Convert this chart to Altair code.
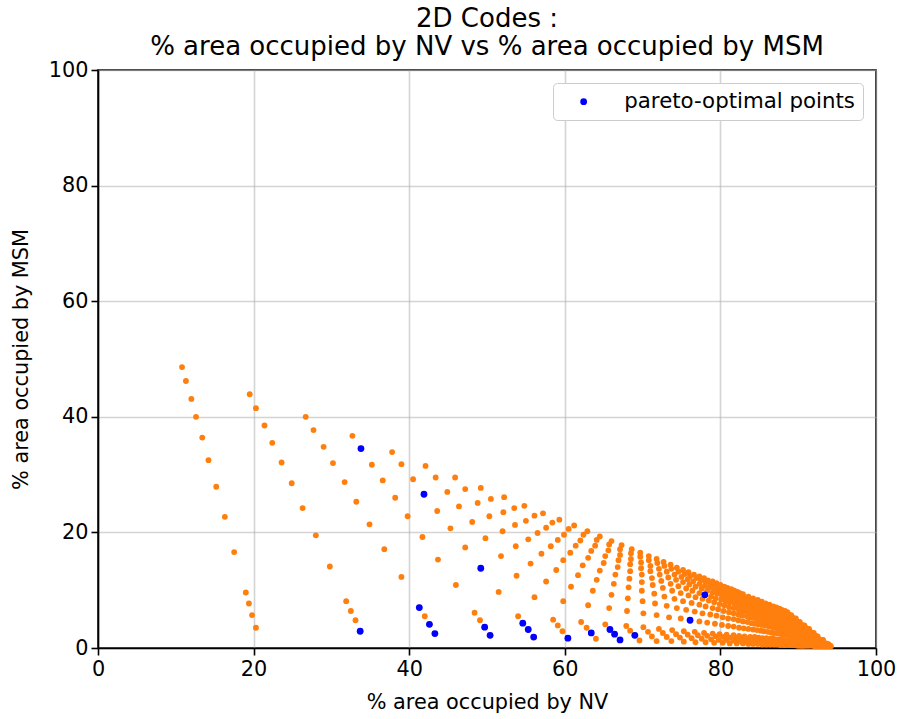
import altair as alt
import pandas as pd

# Each list is one "row" of the point family (same relative position on every curve),
# ordered by curve from the upper-left curve to the dense lower-right cluster.
nv_r1 = [10.8,19.5,26.7,32.7,37.8,42.1,45.9,49.2,52.2,54.8,57.2,59.3,61.2,62.9,64.5,66.0,67.3,68.6,69.7,70.8,71.8,72.7,73.6,74.4,75.2,75.9,76.6,77.3,77.9,78.4,79.0,79.5,80.0,80.5,80.9,81.4,81.8,82.2,82.5,82.9,83.6,84.2,84.8,85.3,85.8,86.3,86.8,87.2,87.6,87.9,88.3,88.6]
msm_r1 = [48.6,43.9,40.0,36.7,33.9,31.5,29.5,27.7,26.1,24.6,23.3,22.2,21.2,20.2,19.3,18.5,17.8,17.1,16.5,15.9,15.4,14.9,14.4,13.9,13.5,13.1,12.7,12.4,12.1,11.7,11.5,11.2,10.9,10.6,10.4,10.2,9.9,9.7,9.5,9.3,8.9,8.6,8.3,8.0,7.7,7.5,7.2,7.0,6.8,6.6,6.4,6.2]
nv_r2 = [11.3,20.3,27.7,33.8,39.0,43.4,47.2,50.5,53.5,56.1,58.4,60.5,62.4,64.1,65.7,67.1,68.5,69.7,70.8,71.9,72.8,73.7,74.6,75.4,76.1,76.9,77.5,78.1,78.7,79.3,79.8,80.3,80.8,81.3,81.7,82.1,82.5,82.9,83.3,83.6,84.3,84.9,85.5,86.0,86.5,86.9,87.3,87.7,88.1,88.5,88.8,89.1]
msm_r2 = [46.2,41.5,37.7,34.5,31.8,29.5,27.5,25.8,24.2,22.9,21.7,20.6,19.6,18.7,17.9,17.1,16.4,15.8,15.2,14.7,14.2,13.7,13.2,12.8,12.4,12.1,11.7,11.4,11.1,10.8,10.5,10.2,10.0,9.8,9.5,9.3,9.1,8.9,8.7,8.5,8.2,7.9,7.6,7.3,7.1,6.8,6.6,6.4,6.2,6.0,5.8,5.7]
nv_r3 = [12.0,21.4,29.0,35.2,40.5,44.9,48.8,52.1,55.0,57.6,59.9,62.0,63.9,65.6,67.1,68.5,69.8,71.0,72.1,73.1,74.1,75.0,75.8,76.5,77.3,78.0,78.6,79.2,79.8,80.3,80.8,81.3,81.8,82.2,82.6,83.0,83.4,83.8,84.1,84.5,85.1,85.7,86.2,86.7,87.2,87.6,88.0,88.4,88.7,89.1,89.4,89.7]
msm_r3 = [43.1,38.5,34.8,31.7,29.2,27.0,25.1,23.5,22.0,20.8,19.6,18.6,17.7,16.9,16.1,15.4,14.8,14.2,13.7,13.2,12.7,12.3,11.9,11.5,11.1,10.8,10.5,10.2,9.9,9.6,9.4,9.2,8.9,8.7,8.5,8.3,8.1,7.9,7.8,7.6,7.3,7.0,6.8,6.5,6.3,6.1,5.9,5.7,5.5,5.4,5.2,5.1]
nv_r4 = [12.6,22.4,30.2,36.6,41.9,46.4,50.3,53.6,56.5,59.1,61.4,63.4,65.2,66.9,68.4,69.8,71.0,72.2,73.3,74.3,75.2,76.0,76.8,77.6,78.3,79.0,79.6,80.2,80.7,81.2,81.7,82.2,82.6,83.1,83.5,83.9,84.2,84.6,84.9,85.2,85.8,86.4,86.9,87.4,87.8,88.2,88.6,89.0,89.3,89.6,89.9,90.2]
msm_r4 = [40.0,35.5,32.0,29.0,26.6,24.5,22.8,21.3,19.9,18.7,17.7,16.8,15.9,15.2,14.5,13.8,13.3,12.7,12.2,11.8,11.4,11.0,10.6,10.3,9.9,9.6,9.4,9.1,8.8,8.6,8.4,8.2,8.0,7.8,7.6,7.4,7.2,7.1,6.9,6.8,6.5,6.2,6.0,5.8,5.6,5.4,5.2,5.0,4.9,4.7,4.6,4.5]
nv_r5 = [13.4,23.6,31.7,38.2,43.6,48.1,52.0,55.3,58.2,60.7,63.0,65.0,66.8,68.4,69.9,71.2,72.4,73.6,74.6,75.6,76.4,77.3,78.0,78.8,79.4,80.1,80.7,81.2,81.8,82.3,82.7,83.2,83.6,84.0,84.4,84.8,85.1,85.4,85.8,86.1,86.6,87.2,87.7,88.1,88.5,88.9,89.3,89.6,90.0,90.3,90.5,90.8]
msm_r5 = [36.4,32.1,28.7,26.0,23.7,21.8,20.2,18.8,17.6,16.5,15.6,14.7,14.0,13.3,12.7,12.1,11.6,11.1,10.7,10.3,9.9,9.5,9.2,8.9,8.6,8.4,8.1,7.9,7.7,7.5,7.3,7.1,6.9,6.7,6.6,6.4,6.3,6.1,6.0,5.9,5.6,5.4,5.2,5.0,4.8,4.6,4.5,4.4,4.2,4.1,4.0,3.9]
nv_r6 = [14.2,24.9,33.2,39.8,45.3,49.8,53.7,57.0,59.8,62.3,64.5,66.5,68.3,69.9,71.3,72.6,73.8,74.9,75.9,76.8,77.7,78.5,79.2,79.9,80.5,81.1,81.7,82.3,82.8,83.2,83.7,84.1,84.5,84.9,85.3,85.6,86.0,86.3,86.6,86.9,87.4,87.9,88.4,88.8,89.2,89.6,89.9,90.3,90.6,90.9,91.1,91.4]
msm_r6 = [32.5,28.5,25.3,22.8,20.7,19.0,17.6,16.3,15.2,14.3,13.4,12.7,12.0,11.4,10.9,10.4,9.9,9.5,9.1,8.8,8.5,8.2,7.9,7.6,7.4,7.1,6.9,6.7,6.5,6.4,6.2,6.0,5.9,5.7,5.6,5.4,5.3,5.2,5.1,5.0,4.8,4.6,4.4,4.2,4.1,3.9,3.8,3.7,3.6,3.5,3.4,3.3]
nv_r7 = [15.2,26.3,34.9,41.7,47.2,51.8,55.6,58.9,61.7,64.1,66.3,68.2,69.9,71.5,72.8,74.1,75.2,76.3,77.3,78.1,79.0,79.7,80.4,81.1,81.7,82.3,82.8,83.4,83.8,84.3,84.7,85.1,85.5,85.9,86.2,86.6,86.9,87.2,87.5,87.7,88.2,88.7,89.2,89.6,89.9,90.3,90.6,90.9,91.2,91.5,91.7,92.0]
msm_r7 = [27.9,24.2,21.4,19.2,17.4,15.9,14.6,13.5,12.6,11.8,11.1,10.5,9.9,9.4,8.9,8.5,8.1,7.8,7.5,7.2,6.9,6.7,6.4,6.2,6.0,5.8,5.6,5.5,5.3,5.2,5.0,4.9,4.8,4.6,4.5,4.4,4.3,4.2,4.1,4.0,3.9,3.7,3.6,3.4,3.3,3.2,3.1,3.0,2.9,2.8,2.7,2.6]
nv_r8 = [16.3,28.0,36.8,43.7,49.2,53.8,57.6,60.8,63.6,66.0,68.1,70.0,71.6,73.1,74.4,75.6,76.7,77.7,78.7,79.5,80.3,81.0,81.7,82.3,82.9,83.5,84.0,84.5,84.9,85.3,85.7,86.1,86.5,86.8,87.2,87.5,87.8,88.1,88.3,88.6,89.1,89.5,89.9,90.3,90.7,91.0,91.3,91.6,91.8,92.1,92.3,92.5]
msm_r8 = [22.7,19.5,17.1,15.3,13.8,12.5,11.5,10.6,9.9,9.2,8.6,8.1,7.7,7.3,6.9,6.6,6.3,6.0,5.8,5.6,5.3,5.1,5.0,4.8,4.6,4.5,4.3,4.2,4.1,4.0,3.9,3.8,3.7,3.6,3.5,3.4,3.3,3.2,3.2,3.1,3.0,2.8,2.7,2.6,2.5,2.4,2.4,2.3,2.2,2.1,2.1,2.0]
nv_r9 = [17.5,29.8,39.0,46.0,51.5,56.1,59.8,63.0,65.7,68.0,70.1,71.8,73.4,74.9,76.1,77.3,78.3,79.3,80.2,81.0,81.7,82.4,83.0,83.6,84.2,84.7,85.2,85.6,86.1,86.5,86.8,87.2,87.5,87.9,88.2,88.5,88.7,89.0,89.2,89.5,89.9,90.3,90.7,91.1,91.4,91.7,92.0,92.3,92.5,92.7,93.0,93.2]
msm_r9 = [16.6,14.1,12.3,10.9,9.7,8.8,8.1,7.4,6.9,6.4,6.0,5.7,5.3,5.1,4.8,4.6,4.4,4.2,4.0,3.8,3.7,3.5,3.4,3.3,3.2,3.1,3.0,2.9,2.8,2.7,2.6,2.6,2.5,2.4,2.4,2.3,2.3,2.2,2.2,2.1,2.0,1.9,1.9,1.8,1.7,1.7,1.6,1.6,1.5,1.5,1.4,1.4]
nv_r10 = [19.0,31.9,41.3,48.4,54.0,58.5,62.1,65.2,67.9,70.1,72.1,73.8,75.3,76.7,77.9,79.0,79.9,80.8,81.7,82.4,83.1,83.8,84.4,84.9,85.4,85.9,86.4,86.8,87.2,87.6,87.9,88.2,88.6,88.9,89.1,89.4,89.7,89.9,90.1,90.4,90.8,91.2,91.5,91.8,92.1,92.4,92.7,92.9,93.2,93.4,93.6,93.8]
msm_r10 = [9.6,8.1,7.0,6.1,5.5,4.9,4.5,4.1,3.8,3.6,3.3,3.1,2.9,2.8,2.6,2.5,2.4,2.3,2.2,2.1,2.0,1.9,1.9,1.8,1.7,1.7,1.6,1.6,1.5,1.5,1.4,1.4,1.4,1.3,1.3,1.3,1.2,1.2,1.2,1.1,1.1,1.1,1.0,1.0,0.9,0.9,0.9,0.8,0.8,0.8,0.8,0.7]
nv_r11 = [19.4,32.5,42.0,49.1,54.6,59.1,62.8,65.8,68.4,70.7,72.6,74.3,75.8,77.1,78.3,79.4,80.4,81.3,82.1,82.8,83.5,84.1,84.7,85.3,85.8,86.2,86.7,87.1,87.5,87.8,88.2,88.5,88.8,89.1,89.4,89.7,89.9,90.2,90.4,90.6,91.0,91.4,91.7,92.0,92.3,92.6,92.9,93.1,93.3,93.5,93.7,93.9]
msm_r11 = [7.7,6.4,5.5,4.8,4.3,3.9,3.5,3.2,3.0,2.8,2.6,2.4,2.3,2.2,2.1,2.0,1.9,1.8,1.7,1.6,1.6,1.5,1.5,1.4,1.4,1.3,1.3,1.2,1.2,1.2,1.1,1.1,1.1,1.0,1.0,1.0,1.0,0.9,0.9,0.9,0.9,0.8,0.8,0.8,0.7,0.7,0.7,0.7,0.6,0.6,0.6,0.6]
nv_r12 = [19.8,33.1,42.6,49.7,55.3,59.7,63.4,66.4,69.0,71.2,73.1,74.8,76.3,77.6,78.8,79.8,80.8,81.7,82.5,83.2,83.9,84.5,85.0,85.6,86.1,86.5,87.0,87.4,87.8,88.1,88.5,88.8,89.1,89.4,89.6,89.9,90.1,90.4,90.6,90.8,91.2,91.6,91.9,92.2,92.5,92.8,93.0,93.3,93.5,93.7,93.9,94.1]
msm_r12 = [5.7,4.8,4.1,3.6,3.2,2.9,2.6,2.4,2.2,2.0,1.9,1.8,1.7,1.6,1.5,1.4,1.4,1.3,1.2,1.2,1.1,1.1,1.1,1.0,1.0,1.0,0.9,0.9,0.9,0.8,0.8,0.8,0.8,0.8,0.7,0.7,0.7,0.7,0.7,0.7,0.6,0.6,0.6,0.6,0.5,0.5,0.5,0.5,0.5,0.4,0.4,0.4]
nv_r13 = [20.3,33.7,43.3,50.4,56.0,60.4,64.0,67.1,69.6,71.8,73.7,75.3,76.8,78.1,79.2,80.3,81.2,82.1,82.9,83.6,84.2,84.8,85.4,85.9,86.4,86.9,87.3,87.7,88.1,88.4,88.8,89.1,89.4,89.6,89.9,90.2,90.4,90.6,90.8,91.1,91.4,91.8,92.1,92.4,92.7,93.0,93.2,93.4,93.7,93.9,94.0,94.2]
msm_r13 = [3.5,2.9,2.5,2.2,1.9,1.7,1.6,1.4,1.3,1.2,1.2,1.1,1.0,1.0,0.9,0.9,0.8,0.8,0.8,0.7,0.7,0.7,0.6,0.6,0.6,0.6,0.6,0.5,0.5,0.5,0.5,0.5,0.5,0.5,0.4,0.4,0.4,0.4,0.4,0.4,0.4,0.4,0.3,0.3,0.3,0.3,0.3,0.3,0.3,0.3,0.3,0.3]

pareto_nv = [33.7,41.3,42.6,43.3,33.8,49.7,50.4,41.9,49.2,54.6,55.3,56.0,60.4,63.4,65.8,66.4,67.1,69.0,76.1,78.0]
pareto_msm = [2.9,7.0,4.1,2.5,34.5,3.6,2.2,26.6,13.8,4.3,3.2,1.9,1.7,2.6,3.2,2.4,1.4,2.2,4.8,9.2]

legend_label = "pareto-optimal points"
title_lines = ["2D Codes :", "% area occupied by NV vs % area occupied by MSM"]
x_title = "% area occupied by NV"
y_title = "% area occupied by MSM"
tick_values = [0, 20, 40, 60, 80, 100]

nv_rows = [nv_r1, nv_r2, nv_r3, nv_r4, nv_r5, nv_r6, nv_r7, nv_r8, nv_r9, nv_r10, nv_r11, nv_r12, nv_r13]
msm_rows = [msm_r1, msm_r2, msm_r3, msm_r4, msm_r5, msm_r6, msm_r7, msm_r8, msm_r9, msm_r10, msm_r11, msm_r12, msm_r13]

all_nv, all_msm = [], []
for a, b in zip(nv_rows, msm_rows):
    all_nv.extend(a)
    all_msm.extend(b)

df_all = pd.DataFrame({"nv": all_nv, "msm": all_msm})
df_par = pd.DataFrame({"nv": pareto_nv, "msm": pareto_msm, "series": [legend_label] * len(pareto_nv)})

FONT = "DejaVu Sans"
FS = 20.8

x_enc = alt.X("nv:Q", scale=alt.Scale(domain=[0, 100], nice=False, zero=False),
              axis=alt.Axis(title=x_title, values=tick_values, labelPadding=4, titlePadding=14))
y_enc = alt.Y("msm:Q", scale=alt.Scale(domain=[0, 100], nice=False, zero=False),
              axis=alt.Axis(title=y_title, values=tick_values, labelPadding=3, titlePadding=17))

orange = alt.Chart(df_all).mark_circle(color="#ff7f0e", opacity=1, size=34).encode(x=x_enc, y=y_enc)

blue = alt.Chart(df_par).mark_circle(opacity=1, size=46).encode(
    x=x_enc, y=y_enc,
    color=alt.Color("series:N",
                    scale=alt.Scale(domain=[legend_label], range=["#0000ff"]),
                    legend=alt.Legend(title=None, orient="top-right", offset=13,
                                      padding=8, symbolOffset=12, labelOffset=30,
                                      symbolSize=46, symbolType="circle",
                                      fillColor="white", strokeColor="#cccccc",
                                      cornerRadius=4, labelFontSize=21.3, labelFont=FONT,
                                      labelColor="black", labelLimit=0)),
)

chart = alt.layer(orange, blue).properties(
    width=778, height=578,
    title=alt.TitleParams(text=title_lines, fontSize=26, font=FONT, fontWeight="normal",
                          color="black", anchor="middle", lineHeight=28, offset=2, dy=3),
    autosize=alt.AutoSizeParams(type="none"),
    padding={"left": 98, "top": 70, "right": 23, "bottom": 71},
).configure_view(
    stroke="black", strokeWidth=1.6
).configure_axis(
    labelFont=FONT, titleFont=FONT, labelFontSize=FS, titleFontSize=FS,
    titleFontWeight="normal", labelColor="black", titleColor="black",
    tickColor="black", tickSize=7, tickWidth=1.6, domainColor="black", domainWidth=1.6,
    gridColor="#b0b0b0", gridOpacity=0.55, gridWidth=1.6, labelFlush=False
)

chart.save("out.html", embed_options={"renderer": "svg", "actions": False})
